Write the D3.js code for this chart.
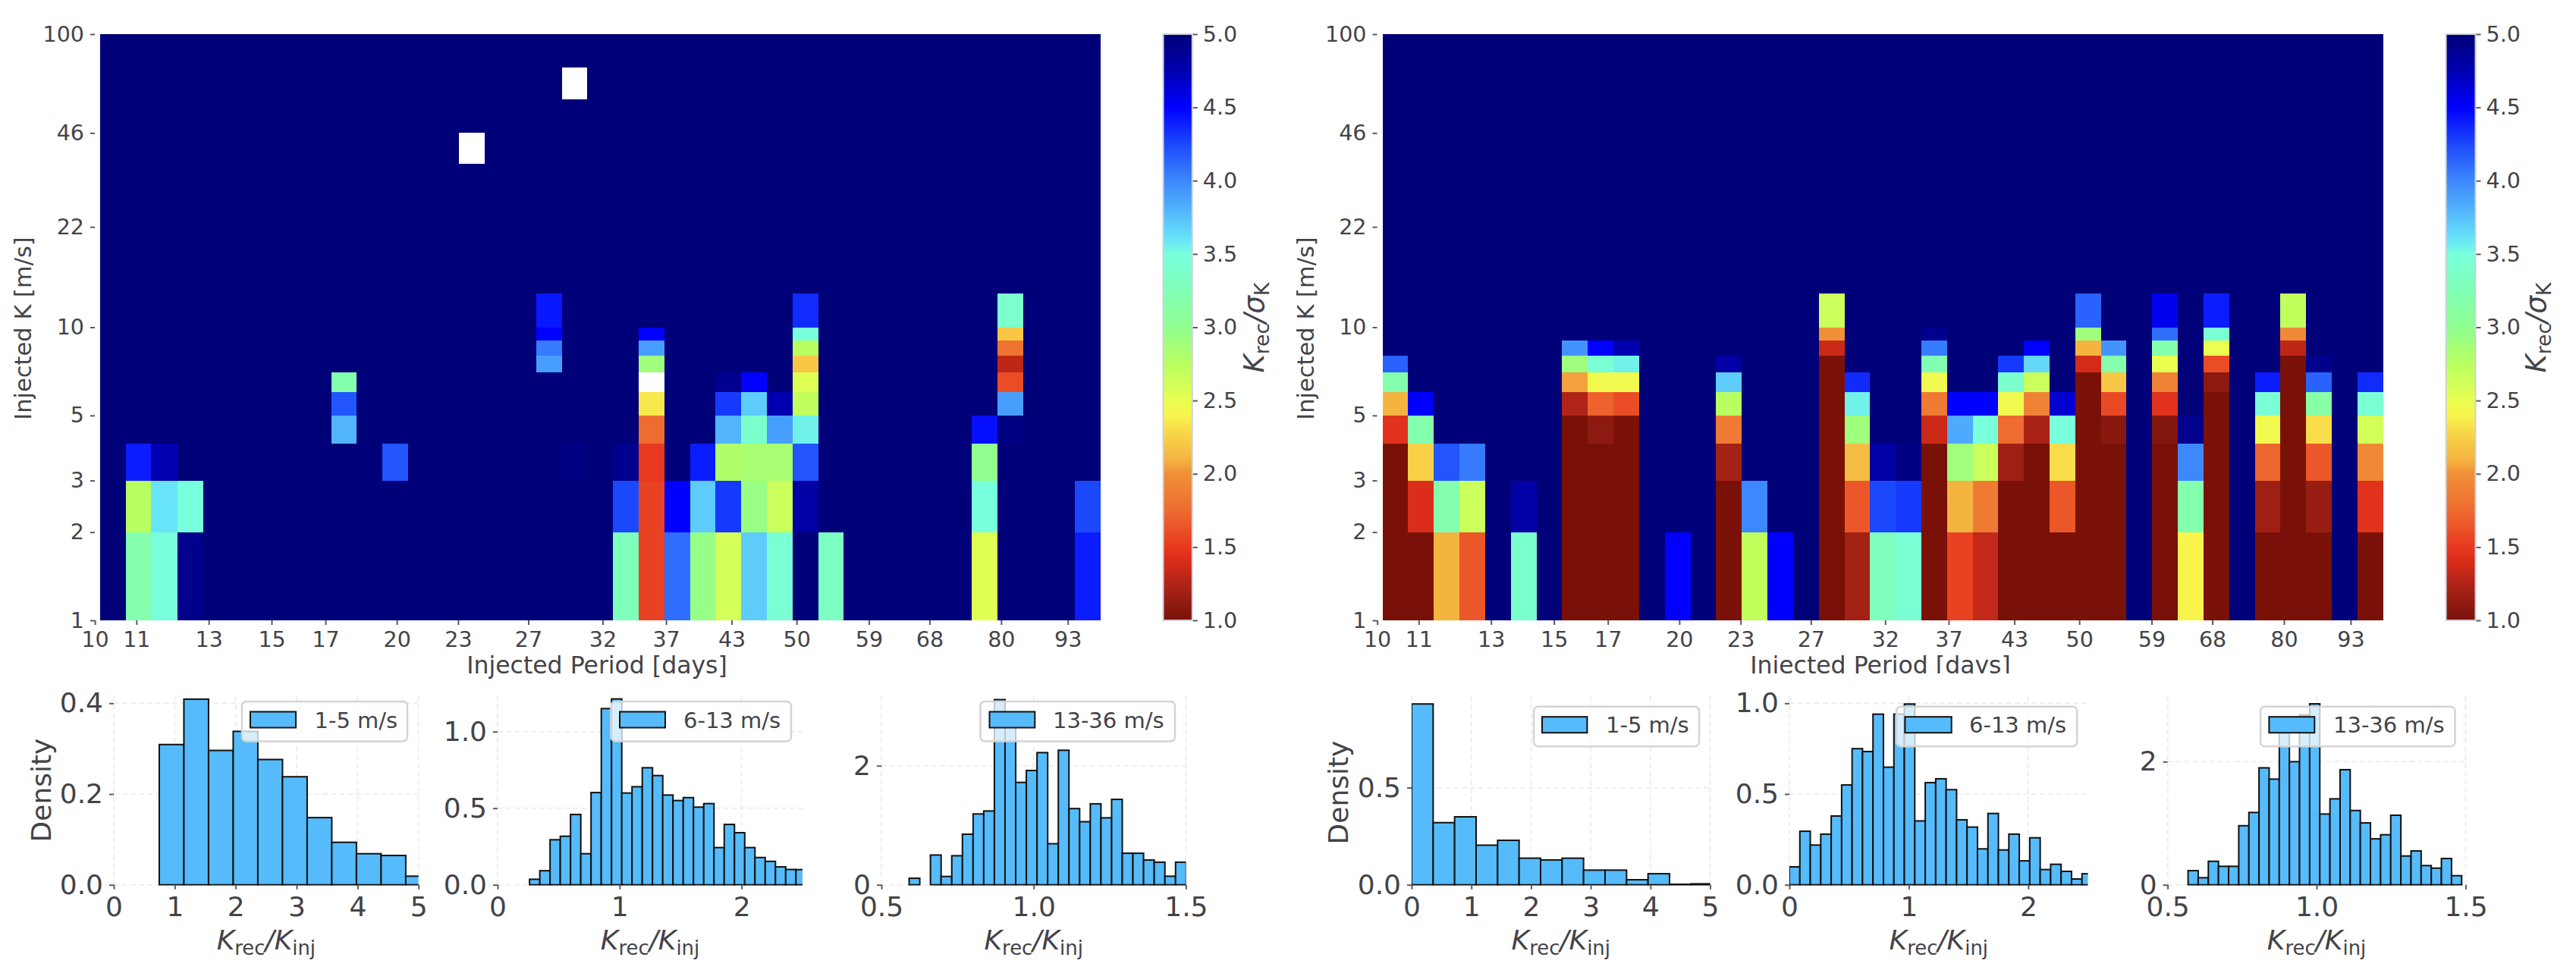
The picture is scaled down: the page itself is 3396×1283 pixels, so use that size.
<!DOCTYPE html>
<html><head><meta charset="utf-8">
<script src="https://cdnjs.cloudflare.com/ajax/libs/d3/7.8.5/d3.min.js"></script>
<style>
html,body{margin:0;padding:0;background:#fff}
svg{display:block}
text{font-family:"DejaVu Sans",sans-serif;fill:#434348}
</style></head><body>
<svg id="c" width="3396" height="1283" viewBox="0 0 3396 1283"></svg>
<script>
// ---------- data ----------
const periodEdges=[10,10.61,11.25,11.94,12.67,13.44,14.26,15.12,16.04,17.02,18.05,19.15,20.32,21.55,22.86,24.25,25.73,27.29,28.95,30.71,32.58,34.56,36.66,38.89,41.25,43.76,46.42,49.24,52.24,55.41,58.78,62.36,66.15,70.17,74.44,78.96,83.77,88.86,94.26,100];
const kEdges=[1,2,3,4,5,6,7,8,9,10,13,17,22,28,36,46,60,77,100];
const periodTickAt=[9.88,10.87,12.84,14.84,16.8,19.8,22.8,26.8,31.8,36.8,42.8,49.7,58.7,67.5,79.6,92.8];
const periodLabels=["10","11","13","15","17","20","23","27","32","37","43","50","59","68","80","93"];
const kTicks=[1,2,3,5,10,22,46,100];
const ratioTicks=[1,1.5,2,2.5,3,3.5,4,4.5,5];
const ratioStops=[1,1.1,1.25,1.4,1.5,1.75,2,2.1,2.25,2.4,2.5,2.6,2.75,3,3.25,3.5,3.6,3.75,4,4.25,4.5,4.75,5];
const ratioColors=["#7a1108","#8c1a10","#b02418","#d82c18","#e83820","#ee6c30","#f09038","#f4b440","#f8d048","#f8f44c","#eaff50","#d4ff58","#b8ff60","#90ff90","#80ffb4","#78ffdc","#68e4f8","#58c0fc","#3c88fc","#1c48fc","#0000ff","#0000b0","#000078"];
// K_rec/sigma_K per period column, listed from K=1 upward; rows not listed are at the ceiling of 5
const leftByColumn=[[],[3.2,2.75,4.4],[3.5,3.6,4.75],[4.92,3.5],[],[],[],[],[],
[5,5,5,3.8,4.2,3.2],[],[5,5,4.2],[],[],[5,5,5,5,5,5,5,5,5,5,5,5,5,5,null],[],[],
[5,5,5,5,5,5,3.9,4.05,4.5,4.42],[5,5,4.95,5,5,5,5,5,5,5,5,5,5,5,5,5,null],[],
[3.3,4.25,4.9],[1.55,1.55,1.5,1.75,2.35,null,2.9,3.9,4.5],[4.1,4.5],[2.95,3.7,4.4],
[2.6,4.3,2.8,3.8,4.3,4.9],[3.7,2.95,2.85,3.4,3.7,4.5],[3.45,2.65,2.85,3.9,4.75],
[5,4.8,4.2,3.55,2.7,2.55,2.2,2.75,3.5,4.35],[3.35],[],[],[],[],[],
[2.55,3.5,3,4.45],[5,5,5,4.95,3.9,1.6,1.3,1.8,2.2,3.4],[],[],[4.4,4.25]];
const rightByColumn=[[1,1,1,1.45,2.1,3.2,4.15],[1,1.42,2.25,3.2,4.5],[2.1,3.2,4.2],[1.65,2.65,4.05],[],
[3.4,4.8],[],[1,1,1,1,1.25,2.05,2.9,3.95],[1,1,1,1.1,1.7,2.45,3.45,4.5],[1,1,1,1,1.6,2.45,3.55,4.75],[],
[4.5],[],[1,1,1.2,1.85,2.75,3.7,4.8],[2.7,4],[4.5],[],
[1,1,1,1,1,1,1,1.35,2,2.65],[1.2,1.65,2.15,2.9,3.55,4.35],[3.3,4.25,4.8],[3.45,4.3,4.95],
[1,1,1,1.35,1.85,2.45,3.25,4.05,4.9],[1.55,2.1,2.9,3.85,4.5],[1.32,1.85,2.65,3.5,4.5],
[1,1,1.18,1.75,2.45,3.4,4.3],[1,1,1,1.22,1.9,2.65,3.65,4.5],[1,1.65,2.3,3.5,4.65],
[1,1,1,1,1,1,1.38,2.1,2.9,4.15],[1,1,1,1.08,1.58,2.2,3.2,3.95],[],
[1,1,1,1.05,1.45,1.9,2.5,3.2,4.1,4.55],[2.4,3.2,4,4.9],[1,1,1,1,1,1.1,1.6,2.5,3.45,4.4],[],
[1,1.18,1.72,2.45,3.45,4.4],[1,1,1,1,1,1,1,1.3,1.95,2.7],[1,1.15,1.65,2.3,3.15,4.15,4.9],[],
[1,1.45,1.95,2.6,3.45,4.35]];
const hL1Dens=[.309,.409,.296,.338,.276,.238,.148,.0936,.0685,.0646,.019];
const hL2Dens=[.036,.092,.294,.317,.459,.203,.602,1.15,1.213,.599,.64,.764,.713,.586,.55,.569,.507,.53,.243,.394,.34,.243,.178,.153,.117,.1,.099];
const hL3Dens=[.11,0,.5,.14,.488,.85,1.19,1.24,3.11,2.76,1.72,1.92,2.22,.69,2.26,1.28,1.06,1.36,1.125,1.435,.53,.53,.416,.38,.144,.38];
const hR1Dens=[.931,.32,.35,.204,.229,.137,.128,.137,.0755,.0755,.026,.057,.0026,.005];
const hR2Dens=[.099,.295,.219,.279,.379,.55,.75,.734,.94,.648,.94,.996,.352,.563,.584,.524,.358,.318,.198,.393,.192,.279,.132,.259,.084,.113,.074,.032,.061];
const hR3Dens=[.23,.115,.382,.3,.3,.96,1.175,1.9,1.717,2.5,2,2.76,2.94,1.15,1.396,1.87,1.207,1.006,.747,.813,1.13,.468,.55,.312,.271,.427,.148];
const legendNames=["1-5 m/s","6-13 m/s","13-36 m/s"];

// ---------- helpers ----------
const svg=d3.select("#c");
const defs=svg.append("defs");
const ratioColor=d3.scaleLinear().domain(ratioStops).range(ratioColors).interpolate(d3.interpolateRgb);
const TICK="#5a5a60";
function styleAxis(g,size){
  g.select(".domain").remove();
  g.selectAll("line").attr("stroke",TICK).attr("stroke-width",2);
  g.selectAll("text").attr("font-size",size).attr("fill","#434348").attr("font-family",'"DejaVu Sans",sans-serif');
}
function mathLabel(g,x,y,size,parts,rotate){
  const t=g.append("text").attr("text-anchor","middle").attr("font-size",size)
    .attr("transform",`translate(${x},${y})`+(rotate?" rotate(-90)":""));
  let shift=0;
  parts.forEach(p=>{
    const s=t.append("tspan").text(p.t);
    if(p.i) s.attr("font-style","italic");
    const target=p.sub?size*0.2:0;
    s.attr("dy",target-shift); shift=target;
    if(p.sub) s.attr("font-size",size*0.72);
  });
  return t;
}
function heatPanel(byColumn,x0,x1,cbX0,cbX1,ylabelX,clipLabel,xlabelX,cbLabelX){
  const g=svg.append("g");
  const top=45,bottom=818;
  const x=d3.scaleLog().domain([10,100]).range([x0,x1]);
  const y=d3.scaleLog().domain([1,100]).range([bottom,top]);
  const cells=[];
  periodEdges.slice(0,-1).forEach((p,c)=>{
    kEdges.slice(0,-1).forEach((k,r)=>{
      const list=byColumn[c];
      const v=r<list.length?list[r]:5;
      cells.push({p0:p,p1:periodEdges[c+1],k0:k,k1:kEdges[r+1],v});
    });
  });
  g.append("g").attr("shape-rendering","crispEdges").selectAll("rect").data(cells).join("rect")
    .attr("x",d=>x(d.p0)).attr("width",d=>x(d.p1)-x(d.p0))
    .attr("y",d=>y(d.k1)).attr("height",d=>y(d.k0)-y(d.k1))
    .attr("fill",d=>d.v===null?"#fff":ratioColor(d.v));
  const ax=g.append("g").attr("transform",`translate(0,${bottom})`)
    .call(d3.axisBottom(x).tickValues(periodTickAt).tickFormat((d,i)=>periodLabels[i]).tickSize(6).tickSizeOuter(0).tickPadding(9));
  styleAxis(ax,28.5);
  const ay=g.append("g").attr("transform",`translate(${x0-7},0)`)
    .call(d3.axisLeft(y).tickValues(kTicks).tickFormat(d3.format("d")).tickSize(6).tickSizeOuter(0).tickPadding(8));
  styleAxis(ay,28.5);
  g.append("text").attr("transform",`translate(${ylabelX},433) rotate(-90)`).attr("text-anchor","middle").attr("font-size",30.5).text("Injected K [m/s]");
  const xl=g.append("text").attr("x",xlabelX).attr("y",888).attr("text-anchor","middle").attr("font-size",31.5).text("Injected Period [days]");
  if(clipLabel){
    defs.append("clipPath").attr("id","labelClip").append("rect").attr("x",x0).attr("y",850).attr("width",x1-x0).attr("height",38);
    xl.attr("clip-path","url(#labelClip)");
  }
  // colorbar
  const cb=d3.scaleLinear().domain([1,5]).range([bottom,top]);
  const samples=d3.range(1,5,0.005);
  g.append("g").attr("shape-rendering","crispEdges").selectAll("rect").data(samples).join("rect")
    .attr("x",cbX0).attr("width",cbX1-cbX0)
    .attr("y",d=>cb(d+0.005)).attr("height",d=>cb(d)-cb(d+0.005)+0.5)
    .attr("fill",d=>ratioColor(d));
  g.append("rect").attr("x",cbX0).attr("y",top).attr("width",cbX1-cbX0).attr("height",bottom-top)
    .attr("fill","none").attr("stroke","#cfd2dc").attr("stroke-width",2);
  const ac=g.append("g").attr("transform",`translate(${cbX1+1},0)`)
    .call(d3.axisRight(cb).tickValues(ratioTicks).tickFormat(d3.format(".1f")).tickSize(6).tickSizeOuter(0).tickPadding(7));
  styleAxis(ac,28.5);
  mathLabel(g,cbLabelX,432,37,[{t:"K",i:1},{t:"rec",sub:1},{t:"/σ",i:1},{t:"K",sub:1}],true);
}
let histId=0;
function histPanel(o){
  const g=svg.append("g");
  const top=918,bottom=1166.7;
  const x=d3.scaleLinear().domain(o.xd).range([o.x0,o.x1]);
  const y=d3.scaleLinear().domain([0,o.ymax]).range([bottom,top]);
  // grid
  const grid=g.append("g").attr("stroke","#eeeeee").attr("stroke-width",2).attr("stroke-dasharray","7,4");
  o.xt.forEach(t=>grid.append("line").attr("x1",x(t)).attr("x2",x(t)).attr("y1",top).attr("y2",bottom));
  o.yt.forEach(t=>grid.append("line").attr("x1",o.x0).attr("x2",o.x1).attr("y1",y(t)).attr("y2",y(t)));
  // bars
  const id="histClip"+(histId++);
  defs.append("clipPath").attr("id",id).append("rect").attr("x",o.x0).attr("y",top-5).attr("width",o.x1-o.x0).attr("height",bottom-top+6);
  const bars=o.dens.map((d,i)=>({d,a:o.start+i*o.width,b:o.start+(i+1)*o.width})).filter(b=>b.d>0);
  g.append("g").attr("clip-path",`url(#${id})`).selectAll("rect").data(bars).join("rect")
    .attr("x",b=>x(b.a)).attr("width",b=>x(b.b)-x(b.a))
    .attr("y",b=>y(b.d)).attr("height",b=>bottom-y(b.d))
    .attr("fill","#56bbfa").attr("stroke","#111").attr("stroke-width",2);
  // axes
  const ax=g.append("g").attr("transform",`translate(0,${bottom})`)
    .call(d3.axisBottom(x).tickValues(o.xt).tickFormat(d3.format(o.xf)).tickSize(6).tickSizeOuter(0).tickPadding(10));
  styleAxis(ax,36);
  const ay=g.append("g").attr("transform",`translate(${o.x0},0)`)
    .call(d3.axisLeft(y).tickValues(o.yt).tickFormat(d3.format(o.yf)).tickSize(6).tickSizeOuter(0).tickPadding(8));
  styleAxis(ay,36);
  mathLabel(g,(o.x0+o.x1)/2,1251.7,36,[{t:"K",i:1},{t:"rec",sub:1},{t:"/",i:1},{t:"K",i:1},{t:"inj",sub:1}],false);
  if(o.density) g.append("text").attr("transform",`translate(${o.density[0]},${o.density[1]}) rotate(-90)`)
    .attr("text-anchor","middle").attr("font-size",36).text("Density");
  // legend
  const L=o.leg;
  g.append("rect").attr("x",L.x0).attr("y",L.y).attr("width",L.x1-L.x0).attr("height",52.5).attr("rx",6)
    .attr("fill","#fff").attr("fill-opacity",0.75).attr("stroke","#d4d4d4").attr("stroke-width",2.5);
  g.append("rect").attr("x",L.p0).attr("y",L.y+13.5).attr("width",L.p1-L.p0).attr("height",21)
    .attr("fill","#56bbfa").attr("stroke","#111").attr("stroke-width",2);
  g.append("text").attr("x",L.t).attr("y",L.y+34.5).attr("font-size",29).text(o.name);
}

// ---------- draw ----------
heatPanel(leftByColumn,132,1450.5,1533.5,1571.8,41,false,787,1666);
heatPanel(rightByColumn,1822.5,3141.7,3224.6,3263.5,1732,true,2479,3356);

histPanel({dens:hL1Dens,start:.746,width:.4045,xd:[0,5],x0:150,x1:551.7,ymax:.4155,xt:[0,1,2,3,4,5],yt:[0,.2,.4],xf:"d",yf:".1f",density:[67,1042],name:legendNames[0],
  leg:{x0:319,x1:537,y:925,p0:330,p1:390,t:414.5}});
histPanel({dens:hL2Dens,start:.262,width:.084,xd:[0,2.5],x0:656,x1:1058,ymax:1.231,xt:[0,1,2],yt:[0,.5,1],xf:"d",yf:".1f",name:legendNames[1],
  leg:{x0:805.5,x1:1043,y:925,p0:817,p1:877,t:901}});
histPanel({dens:hL3Dens,start:.591,width:.035,xd:[.5,1.5],x0:1162,x1:1563.4,ymax:3.168,xt:[.5,1,1.5],yt:[0,2],xf:".1f",yf:"d",name:legendNames[2],
  leg:{x0:1292.4,x1:1549,y:925,p0:1304.5,p1:1364.3,t:1388}});
histPanel({dens:hR1Dens,start:0,width:.36,xd:[0,5],x0:1861,x1:2254.5,ymax:.971,xt:[0,1,2,3,4,5],yt:[0,.5],xf:"d",yf:".1f",density:[1777,1045],name:legendNames[0],
  leg:{x0:2022,x1:2240,y:931.7,p0:2033,p1:2092.4,t:2117}});
histPanel({dens:hR2Dens,start:0,width:.0875,xd:[0,2.5],x0:2359,x1:2752.6,ymax:1.039,xt:[0,1,2],yt:[0,.5,1],xf:"d",yf:".1f",name:legendNames[1],
  leg:{x0:2500,x1:2738.3,y:931.7,p0:2511.4,p1:2572.7,t:2596}});
histPanel({dens:hR3Dens,start:.5687,width:.034,xd:[.5,1.5],x0:2857.6,x1:3250.5,ymax:3.064,xt:[.5,1,1.5],yt:[0,2],xf:".1f",yf:"d",name:legendNames[2],
  leg:{x0:2980,x1:3236.5,y:931.7,p0:2991.4,p1:3051.3,t:3076}});
</script>
</body></html>
